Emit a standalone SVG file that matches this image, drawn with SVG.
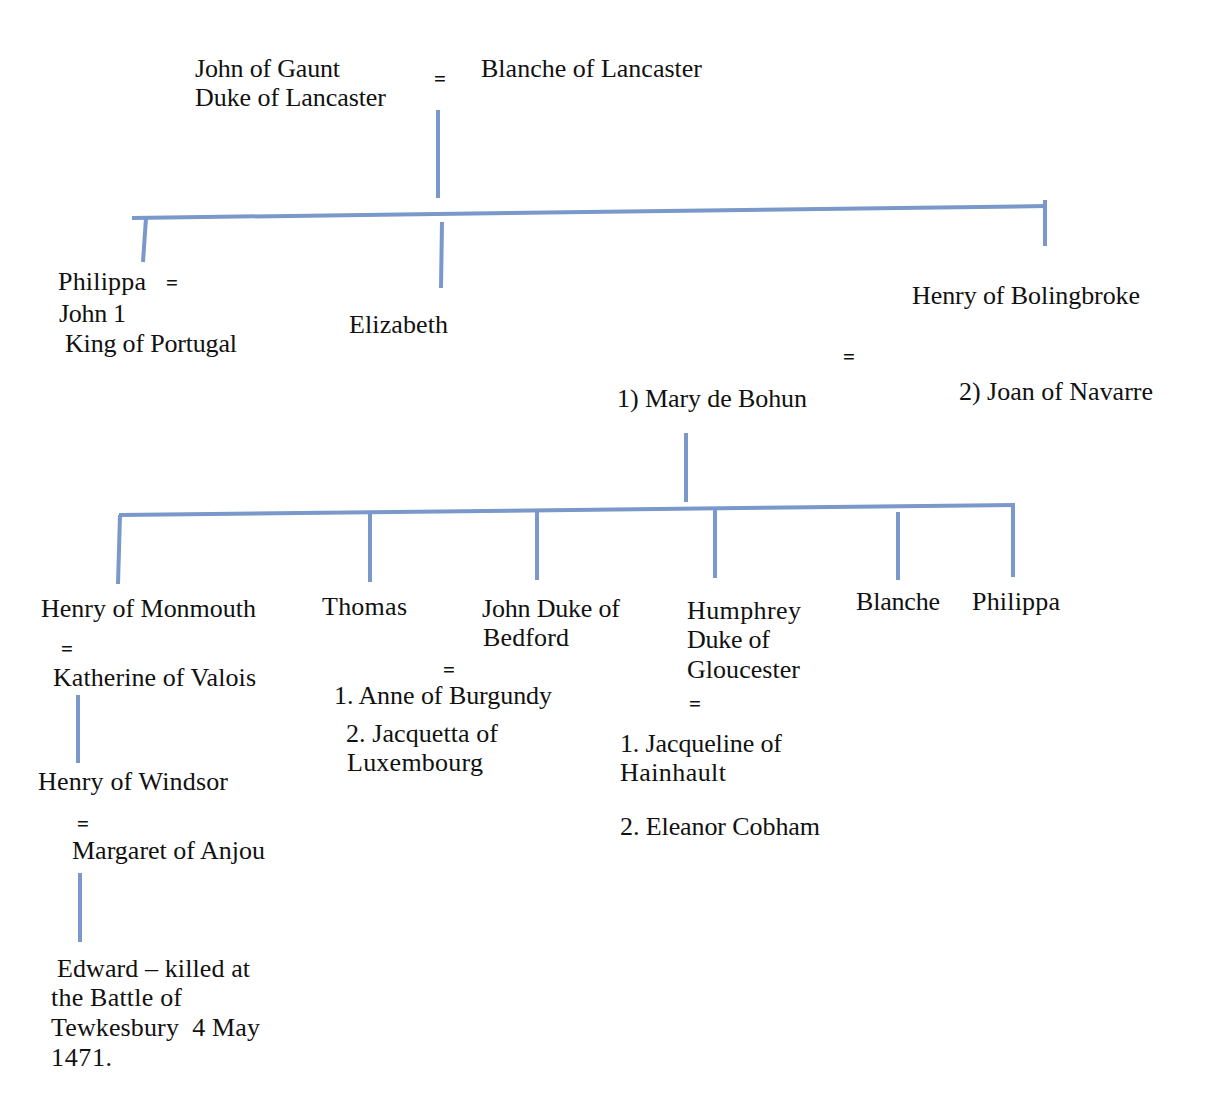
<svg xmlns="http://www.w3.org/2000/svg" width="1225" height="1098" viewBox="0 0 1225 1098">
<style>
text{font-family:"Liberation Serif","DejaVu Serif",serif;font-size:26px;fill:#111}
.eq{font-size:21px;font-weight:bold}
.ln{stroke:#7A98C9;stroke-width:4;fill:none;stroke-linecap:butt}
</style>
<rect width="1225" height="1098" fill="#fff"/>
<g id="connectors">
<line class="ln" x1="438" y1="110" x2="438" y2="198"/>
<line class="ln" x1="132" y1="218" x2="1047" y2="206"/>
<line class="ln" x1="146" y1="218" x2="143" y2="262"/>
<line class="ln" x1="442" y1="222" x2="441" y2="288"/>
<line class="ln" x1="1045" y1="200" x2="1045" y2="246"/>
<line class="ln" x1="686" y1="433" x2="686" y2="502"/>
<line class="ln" x1="119" y1="515" x2="1015" y2="505"/>
<line class="ln" x1="120" y1="515" x2="118" y2="584"/>
<line class="ln" x1="370" y1="513" x2="370" y2="582"/>
<line class="ln" x1="537" y1="511" x2="537" y2="580"/>
<line class="ln" x1="715" y1="510" x2="715" y2="578"/>
<line class="ln" x1="898" y1="512" x2="898" y2="580"/>
<line class="ln" x1="1013" y1="505" x2="1013" y2="577"/>
<line class="ln" x1="78" y1="695" x2="78" y2="763"/>
<line class="ln" x1="80" y1="873" x2="80" y2="942"/>
</g>
<g id="john-of-gaunt"><text x="195" y="77" textLength="145">John of Gaunt</text><text x="195" y="106" textLength="191">Duke of Lancaster</text></g>
<g id="eq1"><text class="eq" x="434" y="86">=</text></g>
<g id="blanche-of-lancaster"><text x="481" y="77" textLength="221">Blanche of Lancaster</text></g>
<g id="philippa1"><text x="58" y="290" textLength="88">Philippa</text><text class="eq" x="166" y="290">=</text><text x="59" y="322" textLength="67">John 1</text><text x="65" y="352" textLength="172">King of Portugal</text></g>
<g id="elizabeth"><text x="349" y="333" textLength="99">Elizabeth</text></g>
<g id="henry-bolingbroke"><text x="912" y="304" textLength="228">Henry of Bolingbroke</text></g>
<g id="eq2"><text class="eq" x="843" y="364">=</text></g>
<g id="mary-de-bohun"><text x="617" y="407" textLength="190">1) Mary de Bohun</text></g>
<g id="joan-of-navarre"><text x="959" y="400" textLength="194">2) Joan of Navarre</text></g>
<g id="henry-monmouth"><text x="41" y="617" textLength="215">Henry of Monmouth</text><text class="eq" x="61" y="656">=</text><text x="53" y="686" textLength="203">Katherine of Valois</text></g>
<g id="henry-windsor"><text x="38" y="790" textLength="190">Henry of Windsor</text><text class="eq" x="77" y="831">=</text><text x="72" y="859" textLength="193">Margaret of Anjou</text></g>
<g id="edward"><text x="57" y="977" textLength="193">Edward – killed at</text><text x="51" y="1006" textLength="131">the Battle of</text><text x="51" y="1036" textLength="209" xml:space="preserve">Tewkesbury  4 May</text><text x="51" y="1066" textLength="61">1471.</text></g>
<g id="thomas"><text x="322" y="615" textLength="85">Thomas</text></g>
<g id="john-bedford"><text x="482" y="617" textLength="138">John Duke of</text><text x="483" y="646" textLength="86">Bedford</text><text class="eq" x="443" y="677">=</text><text x="334" y="704" textLength="218">1. Anne of Burgundy</text><text x="346" y="742" textLength="152">2. Jacquetta of</text><text x="347" y="771" textLength="136">Luxembourg</text></g>
<g id="humphrey"><text x="687" y="619" textLength="114">Humphrey</text><text x="687" y="648" textLength="83">Duke of</text><text x="687" y="678" textLength="113">Gloucester</text><text class="eq" x="689" y="711">=</text><text x="620" y="752" textLength="162">1. Jacqueline of</text><text x="620" y="781" textLength="106">Hainhault</text><text x="620" y="835" textLength="200">2. Eleanor Cobham</text></g>
<g id="blanche"><text x="856" y="610" textLength="84">Blanche</text></g>
<g id="philippa2"><text x="972" y="610" textLength="88">Philippa</text></g>
</svg>
